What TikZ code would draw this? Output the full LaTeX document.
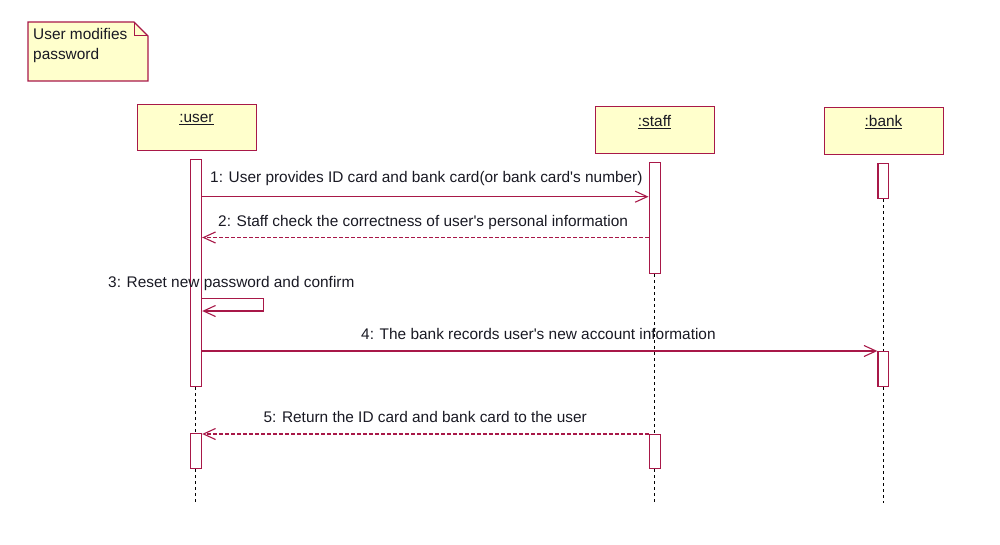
\documentclass[tikz,border=0pt]{standalone}
\usepackage{fontspec}
\setmainfont{Liberation Sans}
\usetikzlibrary{arrows.meta}
\definecolor{rose}{RGB}{168,24,72}
\definecolor{notefill}{RGB}{255,255,204}
\definecolor{txt}{RGB}{25,25,35}
\tikzset{
  objbox/.style={draw=rose, fill=notefill, line width=1.3pt, minimum width=119pt, minimum height=46pt, inner sep=0pt, anchor=north west},
  objlbl/.style={anchor=base, inner sep=0pt, text=txt, font=\fontsize{15.4pt}{18pt}\selectfont},
  actbox/.style={draw=rose, fill=white, line width=1.2pt, minimum width=11.5pt, inner sep=0pt, anchor=north},
  life/.style={black, line width=1.1pt, dash pattern=on 3pt off 3pt},
  msg/.style={rose, line width=1.2pt, -{Straight Barb[length=12pt,width=11pt,line width=1.1pt]}},
  retmsg/.style={msg, dash pattern=on 3.5pt off 2.5pt},
  lbl/.style={anchor=base west, inner sep=0pt, text=txt, font=\fontsize{15.4pt}{18pt}\selectfont},
  notebox/.style={draw=rose, fill=notefill, line width=1.2pt, line join=miter}
}
\begin{document}
\begin{tikzpicture}[x=1pt,y=-1pt]
\useasboundingbox (0,0) rectangle (1000,545);
% note
\draw[notebox] (28,22) -- (134,22) -- (148,36) -- (148,81) -- (28,81) -- cycle;
\draw[rose, line width=1pt] (134,22) -- (134,36) -- (148,36);
\node[lbl] (n1) at (33,39.5) {User modifies};
\node[lbl] (n2) at (33,59.5) {password};
% objects
\node[objbox] (ubox) at (137,104) {};
\node[objlbl] (ulbl) at (196.5,123) {\underline{:user}};
\node[objbox, minimum height=47pt] (sbox) at (595,106) {};
\node[objlbl] (slbl) at (654.5,126.5) {\underline{:staff}};
\node[objbox, minimum height=47pt] (bbox) at (824,107) {};
\node[objlbl] (blbl) at (883.5,127) {\underline{:bank}};
% activations
\node[actbox, minimum height=227pt] (ua1) at (195.85,159) {};
\node[actbox, minimum height=35pt] (ua2) at (195.85,433) {};
\node[actbox, minimum height=111pt] (sa1) at (654.85,162) {};
\node[actbox, minimum height=34pt] (sa2) at (654.85,434) {};
\node[actbox, minimum width=10.5pt, minimum height=35pt] (ba1) at (883.15,163) {};
\node[actbox, minimum width=10.5pt, minimum height=35pt] (ba2) at (883.15,351) {};
% lifeline ends
\coordinate (ue) at (195.85,505);
\coordinate (se) at (654.85,503);
\coordinate (be) at (883.15,503);
\draw[life] (ua1.south) -- (ua2.north);
\draw[life] (ua2.south) -- (ue);
\draw[life] (sa1.south) -- (sa2.north);
\draw[life] (sa2.south) -- (se);
\draw[life] (ba1.south) -- (ba2.north);
\draw[life] (ba2.south) -- (be);
% messages
\draw[msg] (ua1.east |- 0,196.7) -- (sa1.west |- 0,196.7);
\node[lbl] (m1) at (210,183) {1: User provides ID card and bank card(or bank card\textquotesingle s number)};
\draw[retmsg] (sa1.west |- 0,237.5) -- (ua1.east |- 0,237.5);
\node[lbl] (m2) at (218,226.5) {2: Staff check the correctness of user\textquotesingle s personal information};
\draw[msg] (ua1.east |- 0,298.7) -- ++(61.3,0) -- ++(0,12.3) -- (ua1.east |- 0,311);
\node[lbl] (m3) at (108,287) {3: Reset new password and confirm};
\draw[msg] (ua1.east |- 0,351) -- (ba2.west |- 0,351);
\node[lbl] (m4) at (361,339) {4: The bank records user\textquotesingle s new account information};
\draw[retmsg] (sa2.west |- 0,434) -- (ua2.east |- 0,434);
\node[lbl] (m5) at (263.3,422) {5: Return the ID card and bank card to the user};
\end{tikzpicture}
\end{document}
